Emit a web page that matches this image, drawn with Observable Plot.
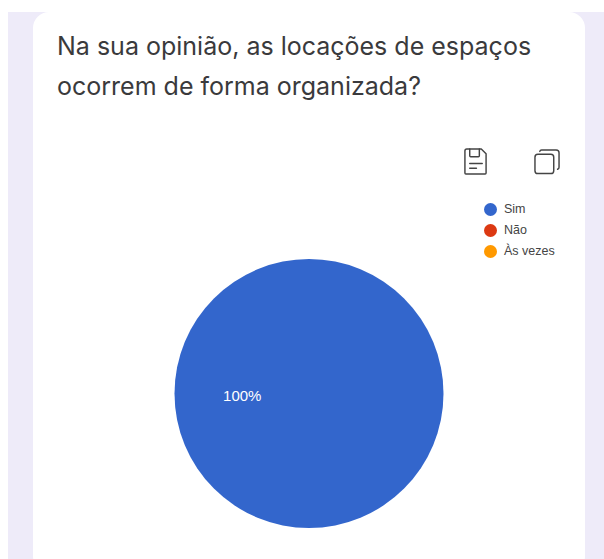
<!DOCTYPE html>
<html lang="pt">
<head>
<meta charset="utf-8">
<script src="https://cdn.jsdelivr.net/npm/d3@7"></script>
<script src="https://cdn.jsdelivr.net/npm/@observablehq/plot@0.6"></script>
<style>
  html, body { margin: 0; padding: 0; background: #fff; }
  #page { position: relative; width: 604px; height: 559px; overflow: hidden; background: #fff; }
  #panel { position: absolute; left: 8px; top: 12px; right: 0; bottom: 0; background: #eeebf9; }
  #card { position: absolute; left: 33px; top: 12px; width: 552px; height: 560px; background: #fff; border-radius: 16px; }
  h1 { position: absolute; left: 57px; top: 27px; margin: 0; width: 500px; color: #3a3a3c;
       font: 400 25px/39.5px Inter, Roboto, sans-serif; }
  #chart { position: absolute; left: 0; top: 0; }
  #chart svg { display: block; background: transparent; }
  #legend { position: absolute; left: 484px; top: 199px; font: 12.5px/21px "Liberation Sans", Arial, sans-serif; color: #444; }
  #legend div { display: flex; align-items: center; height: 21px; }
  #legend i { width: 13px; height: 13px; border-radius: 50%; margin-right: 7px; display: block; }
  .icon { position: absolute; fill: none; stroke: #444; stroke-width: 1.5; stroke-linejoin: round; stroke-linecap: round; }
</style>
</head>
<body>
<div id="page">
  <div id="panel"></div>
  <div id="card"></div>
  <h1>Na sua opinião, as locações de espaços<br>ocorrem de forma organizada?</h1>
  <div id="chart"></div>
  <svg class="icon" style="left:463px;top:148px" width="25" height="27" viewBox="0 0 26 28">
    <path d="M2 3a2 2 0 0 1 2-2h15l5 5v20a1 1 0 0 1-1 1H3a1 1 0 0 1-1-1z"/>
    <path d="M7 1v7a1 1 0 0 0 1 1h8a1 1 0 0 0 1-1V1"/>
    <path d="M7 16h13M7 21h7"/>
  </svg>
  <svg class="icon" style="left:534px;top:149px" width="26" height="26" viewBox="0 0 27 27">
    <rect x="1" y="5.5" width="19.5" height="20" rx="3"/>
    <path d="M6 2.5a2 2 0 0 1 2-1.5h15a3 3 0 0 1 3 3v15a2 2 0 0 1-1.5 2"/>
  </svg>
  <div id="legend"></div>
</div>
<script>
// Survey answers and their share of responses
const answers = ["Sim", "Não", "Às vezes"];
const shares = [100, 0, 0];
const colors = ["#3366cc", "#dc3912", "#ff9900"];

const rows = answers.map((answer, i) => ({answer, share: shares[i], color: colors[i]}));

// Full turn starting at the right-hand side, so a lone slice is labelled on its left
const slices = d3.pie()
  .sort(null)
  .value(d => d.share)
  .startAngle(Math.PI / 2)
  .endAngle(Math.PI / 2 + 2 * Math.PI)(rows);

const unitArc = d3.arc().innerRadius(0).outerRadius(1);
const labels = slices.filter(s => s.data.share > 0).map(s => {
  const [x, y] = unitArc.centroid(s);
  return {x, y, text: `${s.data.share}%`};
});

// Draws each slice through the x and y scales
function pieSlices(index, scales) {
  const radius = scales.x(1) - scales.x(0);
  const arc = d3.arc().innerRadius(0).outerRadius(radius);
  const g = d3.create("svg:g")
    .attr("transform", `translate(${scales.x(0)},${scales.y(0)})`);
  g.selectAll("path")
    .data(slices.filter(s => s.data.share > 0))
    .join("path")
    .attr("d", arc)
    .attr("fill", s => s.data.color);
  return g.node();
}

const plot = Plot.plot({
  width: 604,
  height: 559,
  margin: 0,
  style: {background: "transparent"},
  x: {domain: [-1, 1], range: [174.5, 443.5], axis: null},
  y: {domain: [-1, 1], range: [259, 528], axis: null},
  marks: [
    pieSlices,
    Plot.text(labels, {
      x: "x", y: "y", text: "text",
      fill: "#fff", fontSize: 15, fontFamily: "'Liberation Sans', Arial, sans-serif", dy: 2
    })
  ]
});
document.getElementById("chart").append(plot);

const legend = d3.select("#legend").selectAll("div").data(rows).join("div");
legend.append("i").style("background", d => d.color);
legend.append("span").text(d => d.answer);
</script>
</body>
</html>
